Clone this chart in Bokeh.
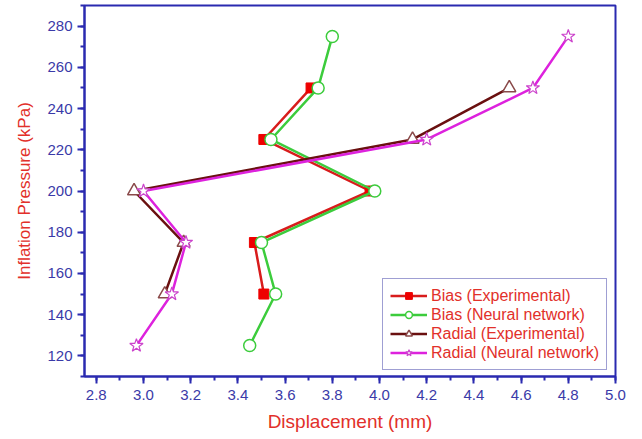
from bokeh.plotting import figure
from bokeh.models import SingleIntervalTicker, PrintfTickFormatter, Range1d, Legend, LegendItem
from bokeh.embed import file_html
from bokeh.resources import INLINE

# Data
bias_exp_x = [3.71, 3.51, 3.96, 3.47, 3.51]
bias_exp_y = [250, 225, 200, 175, 150]
bias_nn_x = [3.80, 3.74, 3.54, 3.98, 3.50, 3.56, 3.45]
bias_nn_y = [275, 250, 225, 200, 175, 150, 125]
rad_exp_x = [4.55, 4.14, 2.96, 3.17, 3.09]
rad_exp_y = [250, 225, 200, 175, 150]
rad_nn_x = [4.80, 4.65, 4.20, 3.00, 3.18, 3.12, 2.97]
rad_nn_y = [275, 250, 225, 200, 175, 150, 125]

BLUE = "#2a2ab0"
TICKBLUE = "#3a3aa8"
RED = "#e2302a"
FONT = "Liberation Sans"

p = figure(width=642, height=439, output_backend="svg", toolbar_location=None,
           x_range=Range1d(2.75, 5.0), y_range=Range1d(110, 290),
           min_border_left=84, min_border_right=27, min_border_top=5, min_border_bottom=63)
p.background_fill_color = "white"
p.border_fill_color = "white"
p.grid.visible = False
p.outline_line_color = BLUE
p.outline_line_width = 2

p.xaxis.ticker = SingleIntervalTicker(interval=0.2, num_minor_ticks=2)
p.yaxis.ticker = SingleIntervalTicker(interval=20, num_minor_ticks=2)
p.xaxis.formatter = PrintfTickFormatter(format="%.1f")
for ax in (p.xaxis, p.yaxis):
    ax.axis_line_color = BLUE
    ax.axis_line_width = 2
    ax.major_tick_line_color = BLUE
    ax.minor_tick_line_color = BLUE
    ax.major_tick_line_width = 2
    ax.minor_tick_line_width = 2
    ax.major_tick_in = 0
    ax.major_tick_out = 7
    ax.minor_tick_in = 0
    ax.minor_tick_out = 4
    ax.major_label_text_color = TICKBLUE
    ax.major_label_text_font = FONT
    ax.major_label_text_font_size = "15px"
    ax.axis_label_text_color = RED
    ax.axis_label_text_font = FONT
    ax.axis_label_text_font_style = "normal"
p.xaxis.axis_label_text_font_size = "19px"
p.yaxis.axis_label_text_font_size = "17px"
p.xaxis.axis_label = "Displacement (mm)"
p.yaxis.axis_label = "Inflation Pressure (kPa)"
p.xaxis.major_label_standoff = 6
p.xaxis.axis_label_standoff = 8
p.yaxis.major_label_standoff = 5
p.yaxis.axis_label_standoff = 10

c_bias_exp = "#d81c1c"
c_bias_nn = "#3ccc3c"
c_rad_exp = "#6a1010"
c_rad_nn = "#dd22dd"

l1 = p.line(bias_exp_x, bias_exp_y, line_color=c_bias_exp, line_width=2.5)
m1 = p.scatter(bias_exp_x, bias_exp_y, marker="square", size=10, fill_color="#ee0000", line_color="#ee0000")
l2 = p.line(bias_nn_x, bias_nn_y, line_color=c_bias_nn, line_width=2.5)
m2 = p.scatter(bias_nn_x, bias_nn_y, marker="circle", size=12, fill_color="white", line_color=c_bias_nn, line_width=1.5)
l3 = p.line(rad_exp_x, rad_exp_y, line_color=c_rad_exp, line_width=2.5)
m3 = p.scatter(rad_exp_x, rad_exp_y, marker="triangle", size=13, fill_color="white", line_color="#8a4a4a", line_width=1.5)
l4 = p.line(rad_nn_x, rad_nn_y, line_color=c_rad_nn, line_width=2.5)
m4 = p.scatter(rad_nn_x, rad_nn_y, marker="star", size=14, fill_color="white", line_color="#cc44cc", line_width=1.2)

legend = Legend(items=[
    LegendItem(label="Bias (Experimental)", renderers=[l1, m1]),
    LegendItem(label="Bias (Neural network)", renderers=[l2, m2]),
    LegendItem(label="Radial (Experimental)", renderers=[l3, m3]),
    LegendItem(label="Radial (Neural network)", renderers=[l4, m4]),
], location=(298, 6))
legend.border_line_color = "#4040a8"
legend.border_line_width = 1.5
legend.label_text_color = RED
legend.label_text_font = FONT
legend.label_text_font_size = "16px"
legend.label_height = 19
legend.glyph_height = 17
legend.glyph_width = 37
legend.label_standoff = 4
legend.spacing = 0
legend.padding = 7
legend.margin = 0
legend.background_fill_alpha = 1.0
p.add_layout(legend, "center")

open("out.html", "w").write(file_html(p, INLINE))
